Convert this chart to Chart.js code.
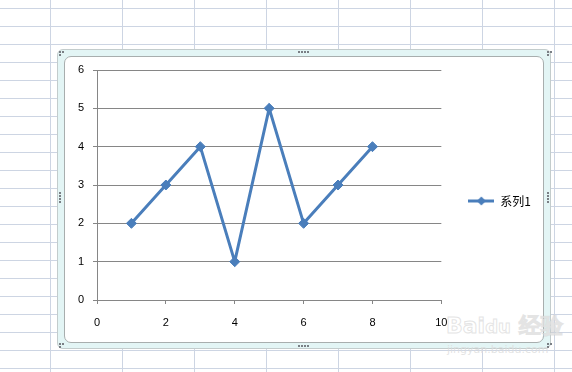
<!DOCTYPE html>
<html>
<head>
<meta charset="utf-8">
<script src="https://cdn.jsdelivr.net/npm/chart.js@4/dist/chart.umd.min.js"></script>
<style>
html,body{margin:0;padding:0;width:572px;height:372px;overflow:hidden;background:#fff;}
#sheet{position:absolute;left:0;top:0;width:572px;height:372px;
 background-image:
  linear-gradient(to right, #cdd5e3 1px, transparent 1px),
  linear-gradient(to bottom, #cdd5e3 1px, transparent 1px);
 background-size:72px 18px, 72px 18px;
 background-position:50px 0, 0 8px;}
#frame{position:absolute;left:57px;top:49px;width:492px;height:298px;
 border:1px solid #c3cccc;border-radius:6px;background:#e3f5f5;}
#inner{position:absolute;left:64px;top:56px;width:478px;height:285px;
 border:1px solid #a8aeae;border-radius:7px;background:#fff;}
.h{position:absolute;width:2px;height:2px;background:#7a7f85;}
#wm{position:absolute;left:446px;top:311px;font:bold 22px "DejaVu Sans",sans-serif;color:rgba(255,255,255,0.7);
 -webkit-text-stroke:1px rgba(205,205,205,0.55);white-space:nowrap;}
#wm2{position:absolute;left:447px;top:343px;font:11px "DejaVu Sans",sans-serif;color:rgba(220,220,220,0.8);white-space:nowrap;}
canvas{position:absolute;left:0;top:0;}
</style>
</head>
<body>
<div id="sheet"></div>
<div id="frame"></div>
<div id="inner"></div>
<div id="handles"></div>
<div id="wm">Bai<span style="font-size:18px">du</span> 经验</div>
<div id="wm2">jingyan.baidu.com</div>
<canvas id="c" width="572" height="372"></canvas>
<script>
// Data
const xValues = [1, 2, 3, 4, 5, 6, 7, 8];
const yValues = [2, 3, 4, 1, 5, 2, 3, 4];
const seriesName = "系列1";
const xTicks = [0, 2, 4, 6, 8, 10];
const yTicks = [0, 1, 2, 3, 4, 5, 6];

// selection handles (decoration)
const hs = document.getElementById('handles');
function dots(x, y, n, horiz) {
  for (let i = 0; i < n; i++) {
    const d = document.createElement('div');
    d.className = 'h';
    d.style.left = (x + (horiz ? i * 3 : 0)) + 'px';
    d.style.top = (y + (horiz ? 0 : i * 3)) + 'px';
    hs.appendChild(d);
  }
}
dots(298, 51, 4, true); dots(298, 345, 4, true);
dots(59, 192, 4, false); dots(547, 192, 4, false);
[[59,51],[547,51],[59,343],[547,343]].forEach(p=>{dots(p[0],p[1],2,true);dots(p[0],p[1]+3,1,true);});

const blue = '#4a7ebb';
const grid = '#868686';

// legend icon: line with diamond
const icon = document.createElement('canvas');
icon.width = 26; icon.height = 10;
(function(){
  const g = icon.getContext('2d');
  g.strokeStyle = blue; g.lineWidth = 3;
  g.beginPath(); g.moveTo(0,5); g.lineTo(26,5); g.stroke();
  g.fillStyle = blue;
  g.beginPath(); g.moveTo(13,0.5); g.lineTo(17.5,5); g.lineTo(13,9.5); g.lineTo(8.5,5); g.closePath(); g.fill();
})();

const points = xValues.map((x, i) => ({x: x, y: yValues[i]}));

new Chart(document.getElementById('c'), {
  type: 'scatter',
  data: {
    datasets: [{
      label: seriesName,
      data: points,
      showLine: true,
      borderColor: blue,
      backgroundColor: blue,
      borderWidth: 3,
      pointStyle: 'rectRot',
      pointRadius: 5,
      pointHoverRadius: 5,
      pointBorderWidth: 1,
      tension: 0
    }]
  },
  options: {
    responsive: false,
    animation: false,
    events: [],
    layout: {padding: {left: 60, top: 70, right: 31, bottom: 40}},
    plugins: {
      legend: {
        position: 'right',
        labels: {
          font: {family: '"Noto Sans CJK SC","Liberation Sans",sans-serif', size: 12},
          color: '#000',
          usePointStyle: true,
          pointStyleWidth: 26,
          generateLabels: (chart) => [{
            text: seriesName, pointStyle: icon, fillStyle: blue, strokeStyle: blue,
            lineWidth: 0, hidden: false, datasetIndex: 0, fontColor: '#000'
          }],
          padding: 27
        }
      },
      tooltip: {enabled: false}
    },
    scales: {
      x: {
        type: 'linear',
        min: 0, max: 10,
        afterBuildTicks: (s) => { s.ticks = xTicks.map(v => ({value: v})); },
        afterFit: (s) => { s.height = 32; },
        border: {display: true, color: grid, width: 1},
        grid: {drawOnChartArea: false, drawTicks: true, tickLength: 4, color: grid},
        ticks: {color: '#000', padding: 12, font: {family: '"Liberation Sans",sans-serif', size: 11}, maxRotation: 0}
      },
      y: {
        type: 'linear',
        min: 0, max: 6,
        afterBuildTicks: (s) => { s.ticks = yTicks.map(v => ({value: v})); },
        afterFit: (s) => { s.width = 37; },
        border: {display: true, color: grid, width: 1},
        grid: {drawOnChartArea: true, drawTicks: true, tickLength: 4, color: grid},
        ticks: {color: '#000', padding: 9, font: {family: '"Liberation Sans",sans-serif', size: 11}}
      }
    }
  }
});
</script>
</body>
</html>
